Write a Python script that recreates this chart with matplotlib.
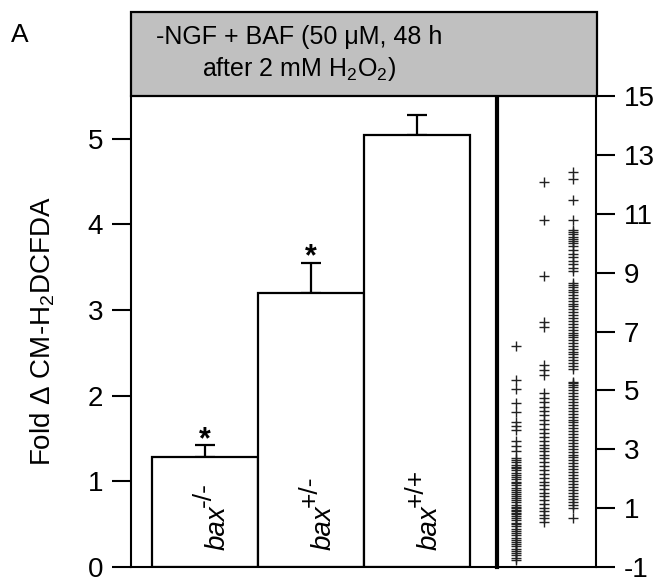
import matplotlib
matplotlib.use('Agg')
import matplotlib.pyplot as plt
from matplotlib.patches import Rectangle

plt.rcParams['font.family'] = ['Liberation Sans', 'DejaVu Sans']
plt.rcParams['mathtext.fontset'] = 'custom'
plt.rcParams['mathtext.rm'] = 'Liberation Sans'
plt.rcParams['mathtext.it'] = 'Liberation Sans:italic'
plt.rcParams['axes.unicode_minus'] = False

# bar data
genotypes = ['-/-', '+/-', '+/+']
fold = [1.28, 3.20, 5.05]
sem = [0.14, 0.35, 0.23]
signif = [True, True, False]

# single cell values (right panel)
cells_ko = [6.52, 5.34, 5.06, 4.56, 4.28, 3.94, 3.80, 3.66, 3.27, 3.10, 2.93,
            2.70, 2.62, 2.55, 2.48, 2.40, 2.35, 2.28, 2.20, 2.12, 2.05, 1.98,
            1.90, 1.85, 1.78, 1.70, 1.62, 1.55, 1.48, 1.40, 1.35, 1.28, 1.20,
            1.12, 1.05, 1.00, 0.95, 0.90, 0.85, 0.80, 0.72, 0.65, 0.58, 0.50,
            0.45, 0.38, 0.30, 0.22, 0.15, 0.08, 0.00, -0.08, -0.15, -0.22,
            -0.30, -0.38, -0.45, -0.52, -0.60, -0.68, -0.75]
cells_het = [12.08, 10.79, 8.88, 7.31, 7.14, 5.85, 5.68, 5.51,
             4.90, 4.75, 4.62, 4.45, 4.30, 4.15, 4.00, 3.85, 3.68, 3.55, 3.40,
             3.28, 3.15, 3.05, 2.95, 2.82, 2.70, 2.55, 2.42, 2.30, 2.15, 2.02,
             1.90, 1.78, 1.65, 1.52, 1.40, 1.28, 1.15, 1.02, 0.90, 0.78, 0.65,
             0.52]
cells_wt = [12.42, 12.19, 11.46, 10.79,
            10.45, 10.38, 10.30, 10.22, 10.15, 10.08, 10.00, 9.90, 9.78, 9.65,
            9.52, 9.40, 9.28, 9.15, 9.05,
            8.65, 8.58, 8.50, 8.42, 8.35, 8.25, 8.15, 8.05, 7.95, 7.85, 7.75,
            7.65, 7.55, 7.45, 7.35, 7.25, 7.15, 7.05, 6.95, 6.88, 6.80, 6.70,
            6.60, 6.50, 6.40, 6.32, 6.22, 6.12, 6.02, 5.92, 5.82, 5.72,
            5.30, 5.25, 5.18, 5.10, 5.00, 4.90, 4.80, 4.70, 4.60, 4.50, 4.40,
            4.30, 4.20, 4.10, 4.00, 3.92, 3.82, 3.72, 3.62, 3.52, 3.42, 3.32,
            3.22, 3.12, 3.02, 2.92, 2.82, 2.72, 2.62, 2.52, 2.42, 2.32, 2.22,
            2.12, 2.02, 1.92, 1.82, 1.72, 1.62, 1.52, 1.42, 1.32, 1.22, 1.12,
            1.02, 0.68]

fig = plt.figure(figsize=(6.66, 5.82), dpi=100)

ax = fig.add_axes([0.1967, 0.0258, 0.5495, 0.8092])
ax2 = fig.add_axes([0.7462, 0.0258, 0.1486, 0.8092])
hdr = fig.add_axes([0.1967, 0.835, 0.6997, 0.1443])

# bars
xs = [1, 2, 3]
ax.bar(xs, fold, width=1.0, color='white', edgecolor='black', linewidth=1.6, zorder=2)
ax.errorbar(xs, fold, yerr=[[0, 0, 0], sem], fmt='none', ecolor='black',
            elinewidth=1.6, capsize=7, capthick=1.6, zorder=1)
for x, f, s, sig in zip(xs, fold, sem, signif):
    if sig:
        ax.annotate('*', (x, f + s), xytext=(0, -7), textcoords='offset points',
                    ha='center', va='bottom', fontsize=22, fontweight='bold')

# rotated genotype labels: italic "bax" plus a raised genotype
fig.canvas.draw()
for x, g in zip(xs, genotypes):
    t = ax.annotate('bax', (x, 0.2), xytext=(9, 0), textcoords='offset points',
                    rotation=90, ha='center', va='bottom', fontsize=20,
                    style='italic')
    bb = t.get_window_extent(fig.canvas.get_renderer())
    length_pt = bb.height * 72 / fig.dpi
    ax.annotate(g, (x, 0.2), xytext=(-1, length_pt - 1), textcoords='offset points',
                rotation=90, ha='center', va='bottom', fontsize=19)

ax.set_xlim(0.302, 3.755)
ax.set_ylim(0, 5.5)
ax.set_yticks([0, 1, 2, 3, 4, 5])
ax.set_xticks([])
ax.tick_params(axis='y', direction='out', length=14, width=1.5, labelsize=20, pad=6)
ax.spines['top'].set_visible(False)
for s in ['left', 'bottom', 'right']:
    ax.spines[s].set_linewidth(1.5)
ax.set_ylabel(r'Fold $\Delta$ CM-H$_2$DCFDA', fontsize=20, labelpad=22)

# single cells
for x, vals in zip(xs, [cells_ko, cells_het, cells_wt]):
    ax2.plot([x] * len(vals), vals, linestyle='none', marker='+', markersize=7.5,
             markeredgewidth=1.0, color='#222222')
ax2.set_xlim(0.32, 3.82)
ax2.set_ylim(-1, 15)
ax2.set_xticks([])
ax2.yaxis.tick_right()
ax2.set_yticks(range(-1, 16, 2))
ax2.tick_params(axis='y', direction='out', length=14, width=1.5, labelsize=20, pad=6)
ax2.spines['top'].set_visible(False)
ax2.spines['left'].set_linewidth(3)
for s in ['bottom', 'right']:
    ax2.spines[s].set_linewidth(1.5)

# header box
hdr.set_xlim(0, 1)
hdr.set_ylim(0, 1)
hdr.axis('off')
hdr.add_patch(Rectangle((0, 0), 1, 1, facecolor='#c0c0c0', edgecolor='black',
                        linewidth=1.6, transform=hdr.transAxes, clip_on=False))
hdr.text(0.36, 0.5, '-NGF + BAF (50 \u03bcM, 48 h\nafter 2 mM H$_2$O$_2$)',
         ha='center', va='center', fontsize=18, linespacing=1.25)

fig.text(0.017, 0.94, 'A', fontsize=19, ha='left', va='center')

fig.savefig('out.png', dpi=100)
